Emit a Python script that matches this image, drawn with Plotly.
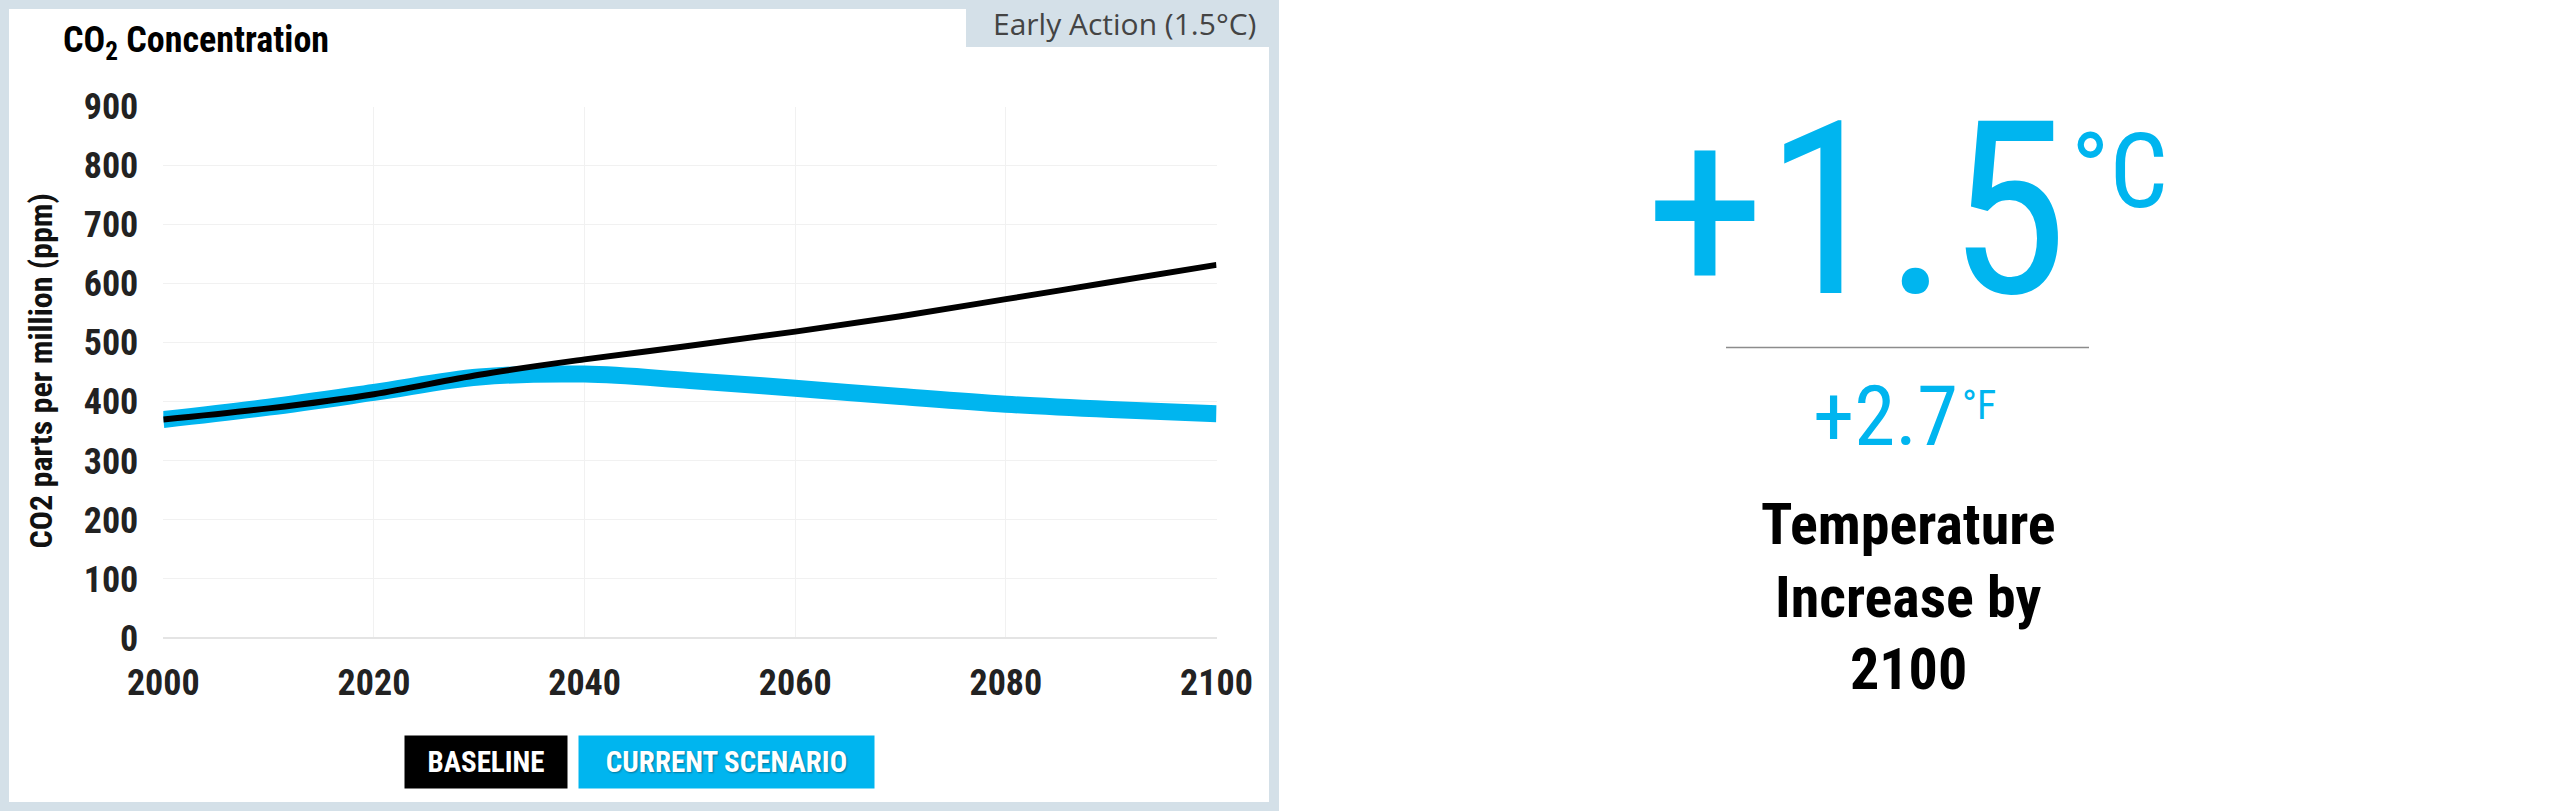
import plotly.graph_objects as go

W, H = 2556, 811

years = [2000, 2010, 2020, 2030, 2040, 2050, 2060, 2070, 2080, 2090, 2100]
baseline_ppm = [370, 389, 413, 446, 472, 495, 519, 545, 574, 603, 632]
scenario_ppm = [370, 391, 416, 442, 447, 436, 423, 409, 396, 387, 380]

y_ticks = [0, 100, 200, 300, 400, 500, 600, 700, 800, 900]
x_ticks = [2000, 2020, 2040, 2060, 2080, 2100]

chart_title = "CO<sub>2</sub> Concentration"
scenario_tag = "Early Action (1.5°C)"
y_title = "CO2 parts per million (ppm)"
legend_labels = ["BASELINE", "CURRENT SCENARIO"]
temp_c = "+1.5"
temp_f = "+2.7"
caption_lines = ["Temperature", "Increase by", "2100"]

BLUE = "#00b5ef"
PANEL = "#d4e0e8"
COND = "Roboto Condensed, Liberation Sans Narrow, DejaVu Sans Condensed, Roboto, sans-serif"


def px(x):
    return x / W


def py(y):
    return 1 - y / H


def label(text, x, y, size, color="#000", xanchor="center", family=COND, weight=700, **kw):
    return dict(
        text=text, x=px(x), y=py(y), xref="paper", yref="paper",
        xanchor=xanchor, yanchor="middle", showarrow=False,
        font=dict(family=family, size=size, color=color, weight=weight), **kw
    )


fig = go.Figure()

fig.add_trace(go.Scatter(
    x=years, y=scenario_ppm, mode="lines", name="Current scenario",
    line=dict(color=BLUE, width=17, shape="spline"), hoverinfo="skip"
))
fig.add_trace(go.Scatter(
    x=years, y=baseline_ppm, mode="lines", name="Baseline",
    line=dict(color="#000", width=6, shape="spline"), hoverinfo="skip"
))

shapes = [
    dict(type="rect", xref="paper", yref="paper", x0=0, x1=px(1279), y0=py(811), y1=py(0),
         fillcolor=PANEL, line_width=0, layer="below"),
    dict(type="rect", xref="paper", yref="paper", x0=px(9), x1=px(1269), y0=py(802), y1=py(9),
         fillcolor="white", line_width=0, layer="below"),
    dict(type="rect", xref="paper", yref="paper", x0=px(966), x1=px(1269), y0=py(47), y1=py(0),
         fillcolor=PANEL, line_width=0, layer="below"),
    dict(type="line", xref="paper", yref="paper", x0=px(1726), x1=px(2089), y0=py(347.5), y1=py(347.5),
         line=dict(color="#8c8c8c", width=1.5)),
]

annotations = [
    label(chart_title, 61, 43, 36, xanchor="left"),
    label(scenario_tag, 1258, 24, 30, color="#444", xanchor="right", family="Open Sans, sans-serif", weight=400),
    label(y_title, 40.5, 371, 32, color="#111", textangle=-90),
    # big temperature readout
    label(temp_c, 2070, 210, 242, color=BLUE, xanchor="right", weight=400),
    label("°C", 2069, 171, 103, color=BLUE, xanchor="left", weight=400),
    label(temp_f, 1960, 416, 83, color=BLUE, xanchor="right", weight=400),
    label("°F", 1960, 405, 40, color=BLUE, xanchor="left", weight=400),
]

for i, line in enumerate(caption_lines):
    annotations.append(label(line, 1908, 524 + i * 72.5, 58))

# legend chips
chips = [(legend_labels[0], "#000", 405, 567), (legend_labels[1], BLUE, 579, 874)]
for text, color, x0, x1 in chips:
    ann = label(text, (x0 + x1) / 2, 762, 29, color="white",
                bgcolor=color, width=x1 - x0, height=52, borderpad=0, align="center")
    ann["font"]["shadow"] = "1px 1px 2px rgba(0,0,0,0.35)"
    annotations.append(ann)

tick_font = dict(family=COND, size=36, color="#222", weight=700)

fig.update_layout(
    width=W, height=H,
    margin=dict(l=0, r=0, t=0, b=0, autoexpand=False),
    paper_bgcolor="white", plot_bgcolor="white",
    showlegend=False,
    shapes=shapes,
    annotations=annotations,
    xaxis=dict(
        domain=[px(163.3), px(1216.5)], range=[2000, 2100], tickvals=x_ticks,
        showgrid=True, gridcolor="#f1f1f1", gridwidth=1, zeroline=False, automargin=False,
        showline=False, ticks="", ticklabelstandoff=20, tickfont=tick_font, fixedrange=True,
    ),
    yaxis=dict(
        domain=[py(638), py(106.7)], range=[0, 900], tickvals=y_ticks,
        showgrid=True, gridcolor="#f1f1f1", gridwidth=1, automargin=False,
        zeroline=True, zerolinecolor="#e4e4e4", zerolinewidth=2,
        showline=False, ticks="", ticklabelstandoff=24, tickfont=tick_font, fixedrange=True,
    ),
)

fig.write_html(
    "out.html",
    config={"displayModeBar": False},
    post_script="document.body.style.margin='0';document.body.style.overflow='hidden';",
)
